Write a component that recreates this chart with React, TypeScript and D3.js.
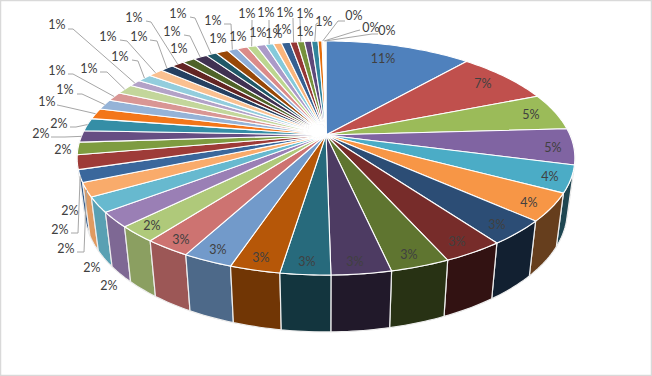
import React from "react";
import * as d3 from "d3";

// Share of each slice, in percent, in drawing order (clockwise from 12 o'clock).
const sliceValues = [
  11.47, 7.48, 5.12, 4.96, 3.69, 3.81, 3.39, 3.31, 3.22, 3.22, 2.69, 2.72, 2.72, 2.52, 2.19, 2.06, 2.06,
  1.89, 1.69, 1.97, 1.72, 1.61, 1.78, 1.49, 1.45, 1.25, 1.39, 0.97, 1.11, 1.17, 1.06, 0.97, 1.0, 1.08,
  0.83, 0.97, 0.78, 0.83, 0.72, 0.72, 0.64, 0.64, 0.69, 0.56, 0.56, 0.56, 0.51, 0.31, 0.11, 0.1, 0.1,
];

const sliceColors = [
  "#4F81BD", "#C0504D", "#9BBB59", "#8064A2", "#4BACC6", "#F79646",
  "#2C4D75", "#772C2A", "#5F7530", "#4D3B62", "#276A7C", "#B65708",
  "#729ACA", "#CD7371", "#AFC97A", "#9A7FB5", "#67B9CF", "#F9AB6B",
  "#3A679C", "#9E3B38", "#7E9C40", "#664E83", "#358EA6", "#F37619",
  "#95B3D7", "#D99694", "#C3D69B", "#B3A2C7", "#93CDDD", "#FAC090",
  "#254061", "#632523", "#4F6228", "#403152", "#205867", "#984807",
  "#8EADD6", "#DB8B89", "#BCD68F", "#AB9AC8", "#85CADB", "#FAB57C",
  "#366092", "#953735", "#76923C", "#5F497A", "#31859C", "#E46C0A",
  "#B8CCE4", "#E6B8B7", "#D8E4BC",
];

// Label layout per slice: text centre, or null where no label shows.
type Spot = [number, number] | null;
const labelSpots: Spot[] = [
  [383, 58], [483, 83], [531, 114], [553, 147], [550, 176], [529, 202], [497, 224], [457, 241], [409, 254],
  [355, 261], [307, 261], [261, 257], [218, 249], [181, 239], [152, 225], [109, 285], [92, 267], [66, 248],
  [60, 229], [70, 210], [63, 149], [41, 133], [59, 123], [47, 101], [65, 89], [57, 70], [89, 68], [57, 24],
  [120, 56], [108, 36], [139, 36], [134, 17], [179, 48], [172, 31], [178, 13], [218, 38], [213, 20], [238, 36],
  [247, 13], [258, 32], [266, 12], [274, 33], [283, 29], [285, 12], [305, 13], [305, 31], [324, 21], null,
  [354, 15], [371, 27], [387, 30],
];

// Leader layout per slice: start and elbow of the leader; it ends on the rim.
type Leader = [number, number, number, number] | null;
const leaderStarts: Record<number, Leader> = {
  17: [77, 252, 84, 252], 18: [71, 233, 78, 233], 21: [51, 137, 65, 137], 22: [70, 127, 76, 127],
  23: [57, 105, 62, 106], 24: [77, 94, 82, 94], 25: [68, 74, 73, 74], 26: [100, 72, 107, 72],
  27: [68, 29, 73, 29], 28: [132, 60, 138, 61], 29: [120, 40, 127, 41], 30: [150, 40, 157, 41],
  31: [146, 21, 151, 22], 33: [184, 35, 190, 36], 34: [190, 17, 195, 18], 36: [224, 24, 231, 24],
  38: [252, 20, 252, 22], 40: [269, 20, 269, 22], 43: [293, 18, 293, 20], 44: [300, 17, 300, 19],
  46: [318, 23, 316, 24], 48: [345, 21, 338, 21], 49: [360, 30, 356, 31], 50: [378, 34, 372, 34],
};

// Wall shading by clockwise angle in degrees.
const shadeAngles = [90, 180, 190, 200, 213, 229, 243, 270];
const shadeFactors = [0.4, 0.43, 0.6, 0.65, 0.76, 0.82, 0.9, 0.85];

const CX = 326, CY = 135, RX = 244, RY = 112.5, TILT = 0.1966;

function topPoint(a: number): [number, number] {
  const X = Math.sin(a), Y = -Math.cos(a), w = 1 - TILT * Y;
  return [CX + (RX * X) / w, CY + (RY * Y) / w];
}
function bottomPoint(a: number): [number, number] {
  const [x, y] = topPoint(a);
  return [CX + 0.97 * (x - CX), CY + 51.6 + 1.038 * (y - CY)];
}
function arcSamples(a0: number, a1: number): number[] {
  const n = Math.max(2, Math.ceil((a1 - a0) / 0.02));
  const s = d3.scaleLinear().domain([0, n]).range([a0, a1]);
  return d3.range(n + 1).map((i) => s(i));
}

export default function App() {
  const arcs = d3.pie<number>().sort(null).value((d) => d)(sliceValues);
  const line = d3.line();
  const shade = d3.scaleLinear().domain(shadeAngles).range(shadeFactors).clamp(true);
  const toDeg = (a: number) => (a * 180) / Math.PI;

  const walls = arcs
    .map((d, i) => {
      const mid = (d.startAngle + d.endAngle) / 2;
      const pts = arcSamples(d.startAngle, d.endAngle);
      const path = line([...pts.map(topPoint), ...pts.slice().reverse().map(bottomPoint)])! + "Z";
      const c = d3.rgb(sliceColors[i]);
      const f = shade(toDeg(mid));
      return { i, mid, path, fill: d3.rgb(c.r * f, c.g * f, c.b * f).formatHex() };
    })
    .filter((w) => -Math.cos(w.mid) > -0.1)
    .sort((a, b) => -Math.cos(a.mid) - -Math.cos(b.mid));

  return (
    <svg
      width={652}
      height={376}
      style={{ position: "absolute", left: 0, top: 0, display: "block", background: "#fff" }}
    >
      <rect x={0.5} y={0.5} width={651} height={375} fill="#fff" stroke="#D9D9D9" strokeWidth={1.5} />
      {walls.map((w) => (
        <path key={w.i} d={w.path} fill={w.fill} stroke="#EDEDED" strokeWidth={1.2} strokeLinejoin="round" />
      ))}
      {arcs.map((d, i) => {
        const rim = arcSamples(d.startAngle, d.endAngle).map(topPoint);
        return (
          <path
            key={i}
            d={line([[CX, CY], ...rim])! + "Z"}
            fill={sliceColors[i]}
            stroke="#fff"
            strokeWidth={1.1}
            strokeLinejoin="round"
          />
        );
      })}
      <ellipse cx={317} cy={131} rx={9} ry={6} fill="#fff" />
      {arcs.map((d, i) => {
        const start = leaderStarts[i];
        if (!start) return null;
        const end = topPoint((d.startAngle + d.endAngle) / 2);
        return (
          <path
            key={i}
            d={line([[start[0], start[1]], [start[2], start[3]], end])!}
            fill="none"
            stroke="#A6A6A6"
            strokeWidth={1}
          />
        );
      })}
      {sliceValues.map((v, i) => {
        const spot = labelSpots[i];
        if (!spot) return null;
        return (
          <text
            key={i}
            x={spot[0]}
            y={spot[1]}
            textAnchor="middle"
            dominantBaseline="central"
            fontFamily="Lato, 'Open Sans', sans-serif"
            fontSize={12.5}
            fill="#404040"
          >
            {Math.round(v)}%
          </text>
        );
      })}
    </svg>
  );
}
